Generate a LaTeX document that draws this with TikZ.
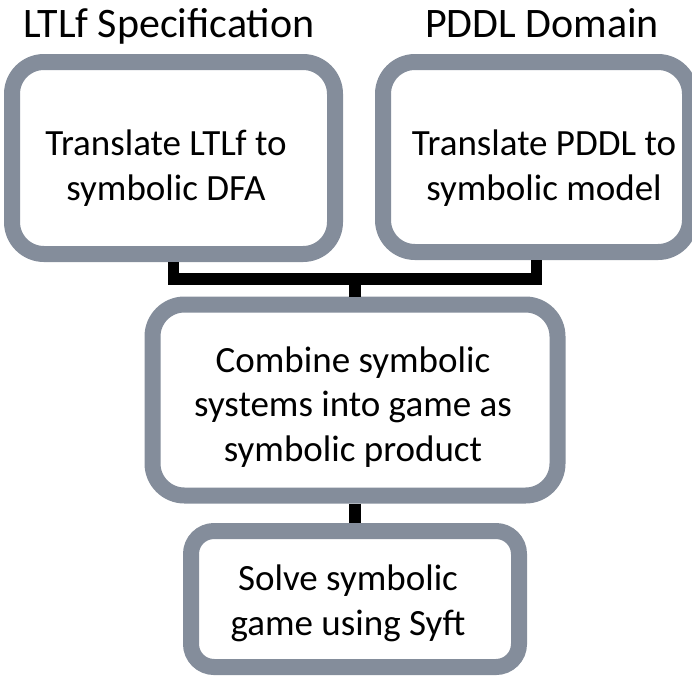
\documentclass[tikz,border=0pt]{standalone}
\usepackage{fontspec}
\setmainfont{Carlito}
\definecolor{boxgray}{RGB}{132,141,155}
\begin{document}
\begin{tikzpicture}[x=1pt,y=-1pt,
  box/.style={draw=boxgray,line width=16pt,fill=white,rounded corners=32pt,inner sep=0pt},
  conn/.style={draw=black,line width=11.5pt,line join=miter},
  txt/.style={font=\fontsize{37}{44.5}\selectfont,align=center,anchor=base,inner sep=0pt},
  title/.style={font=\fontsize{42}{50}\selectfont,anchor=base,inner sep=0pt}]
\useasboundingbox (0,0) rectangle (692,675);
\node[box,minimum width=323pt,minimum height=192pt] (b1) at (173.5,158) {};
\node[box,minimum width=307pt,minimum height=190pt] (b2) at (536.5,157) {};
\node[box,minimum width=405pt,minimum height=191pt] (b3) at (355,400) {};
\node[box,minimum width=328pt,minimum height=136pt,rounded corners=23pt] (b4) at (355,599) {};
\coordinate (j) at (355,279);
\draw[conn] (b1.south) |- (j) -| (b2.south);
\draw[conn] (j) -- (b3.north);
\draw[conn] (b3.south) -- (b4.north);
\node[title] (t0) at (169,37) {LTLf Specification};
\node[title] (t00) at (542,37) {PDDL Domain};
\node[txt] (t1) at (166,200) {Translate LTLf to\\symbolic DFA};
\node[txt] (t2) at (544,200) {Translate PDDL to\\symbolic model};
\node[txt] (t3) at (353,461) {Combine symbolic\\systems into game as\\symbolic product};
\node[txt] (t4) at (348,635) {Solve symbolic\\game using Syft};
\end{tikzpicture}
\end{document}
